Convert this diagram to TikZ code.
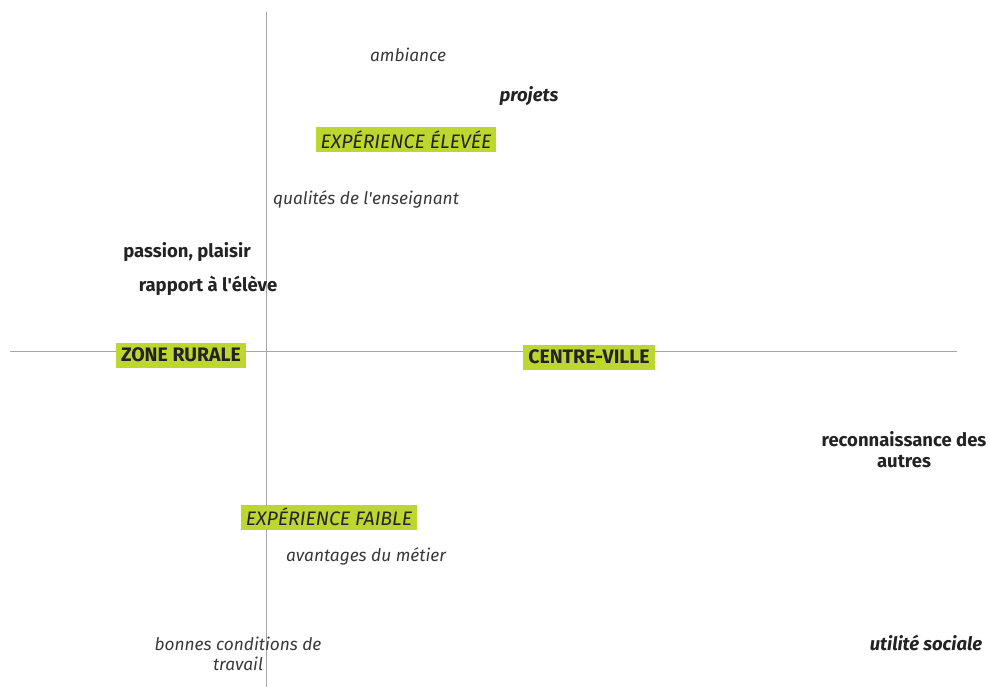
\documentclass[tikz,border=0pt]{standalone}
\usepackage{fontspec}
\setmainfont{Fira Sans}
\definecolor{vert}{RGB}{190,214,48}
\definecolor{encre}{RGB}{35,35,35}
\tikzset{
  tag/.style={fill=vert,text=encre,inner xsep=5pt,inner ysep=0pt,minimum height=25pt,font=\fontsize{19.5}{22}\selectfont},
  mot/.style={text=encre,inner sep=1pt,align=center,font=\fontsize{18.5}{21}\selectfont\bfseries},
  doux/.style={text=encre!90,inner sep=1pt,align=center,font=\fontsize{17.3}{20}\selectfont\itshape},
  axe/.style={draw=gray!70,line width=0.8pt}
}
\begin{document}
\begin{tikzpicture}[x=1pt,y=-1pt]
            \useasboundingbox (0,0) rectangle (990,687);
            \coordinate (haut) at (266,12);
            \coordinate (bas) at (266,687);
            \coordinate (gauche) at (10,351);
            \coordinate (droite) at (957,351);
            \draw [axe] (haut) -- (bas);
            \draw [axe] (gauche) -- (droite);
            % etiquettes des axes
            \node [tag] (eleve) at (406,140) {\itshape EXPÉRIENCE ÉLEVÉE};
            \node [tag] (faible) at (329,517) {\itshape EXPÉRIENCE FAIBLE};
            \node [tag] (rurale) at (181,355) {\bfseries ZONE RURALE};
            \node [tag] (ville) at (589,357) {\bfseries CENTRE-VILLE};
            % mots
            \node [doux] (ambiance) at (408,55) {ambiance};
            \node [mot] (projets) at (529,96) {\itshape projets};
            \node [doux] (qualites) at (366,199) {qualités de l\textquotesingle enseignant};
            \node [mot] (passion) at (187,252) {passion, plaisir};
            \node [mot] (rapport) at (208,286) {rapport à l\textquotesingle élève};
            \node [mot] (reco) at (904,450) {reconnaissance des\\autres};
            \node [doux] (avantages) at (366,556) {avantages du métier};
            \node [doux] (conditions) at (238,654) {bonnes conditions de\\travail};
            \node [mot] (utilite) at (926,643) {\itshape utilité sociale};
        \end{tikzpicture}
\end{document}
